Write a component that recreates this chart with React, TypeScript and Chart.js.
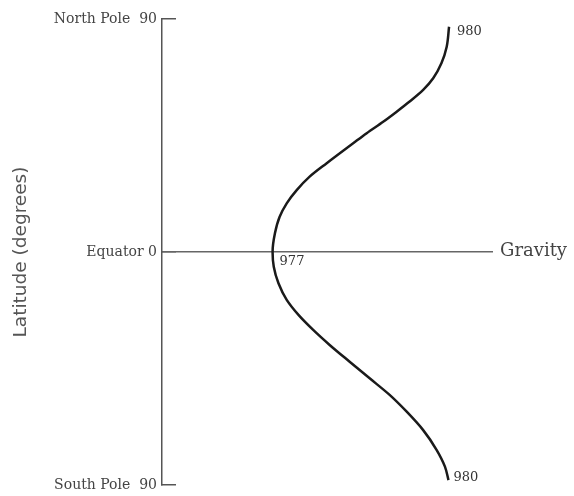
import React, { useEffect, useRef } from 'react';
import { Chart, registerables } from 'chart.js';

Chart.register(...registerables);

// Curve: gravity (x) against latitude (y)
const gravityTop = [
  980.0, 979.96, 979.87, 979.73, 979.56, 979.33, 979.11, 978.88, 978.6, 978.37, 977.92, 977.63, 977.41, 977.24,
  977.12, 977.04, 977.0,
];
const latitudeTop = [87.0, 79.3, 72.9, 67.1, 62.6, 58.1, 54.2, 50.3, 45.9, 42.0, 34.3, 29.1, 23.9, 18.8, 13.6, 7.2, 0];
const gravityBottom = [
  977.02, 977.1, 977.24, 977.44, 977.69, 977.97, 978.31, 978.65, 978.99, 979.28, 979.56, 979.79, 979.93, 979.99,
];
const latitudeBottom = [-5.7, -12.1, -18.5, -24.3, -30.1, -35.9, -42.4, -48.8, -55.2, -61.7, -68.8, -76.5, -82.9, -88.1];

const tickValues = [90, 0, -90];
const tickLabels = ['North Pole  90', 'Equator 0', 'South Pole  90'];
const yTitle = 'Latitude (degrees)';
const xTitle = 'Gravity';
const curveLabels = ['980', '977', '980'];

const gravityMin = 975.12;
const gravityMax = 980.73;

export default function App() {
  const canvasRef = useRef<HTMLCanvasElement | null>(null);

  useEffect(() => {
    const canvas = canvasRef.current;
    if (!canvas) return;

    const points = [
      ...gravityTop.map((g, i) => ({ x: g, y: latitudeTop[i] })),
      ...gravityBottom.map((g, i) => ({ x: g, y: latitudeBottom[i] })),
    ];
    const labelAnchors = [0, gravityTop.length - 1, points.length - 1];
    const labelOffsets = [
      [8, 5],
      [7, 10],
      [5, -2],
    ];

    const textPlugin = {
      id: 'extraText',
      afterDraw(chart: any) {
        const { ctx, scales, chartArea } = chart;
        const xs = scales.x;
        const ys = scales.y;
        ctx.save();
        ctx.fillStyle = '#333';
        ctx.textBaseline = 'middle';
        ctx.textAlign = 'left';
        ctx.font = '13px "DejaVu Serif"';
        labelAnchors.forEach((idx, i) => {
          const p = points[idx];
          const px = xs.getPixelForValue(p.x) + labelOffsets[i][0];
          const py = ys.getPixelForValue(p.y) + labelOffsets[i][1];
          ctx.fillText(curveLabels[i], px, py);
        });
        ctx.font = '18px "DejaVu Serif"';
        ctx.fillStyle = '#444';
        ctx.fillText(xTitle, chartArea.right + 8, ys.getPixelForValue(0) - 1);
        ctx.restore();
      },
    };

    const chart = new Chart(canvas, {
      type: 'scatter',
      data: {
        datasets: [
          {
            data: points,
            showLine: true,
            pointRadius: 0,
            borderColor: '#1a1a1a',
            borderWidth: 2.5,
            cubicInterpolationMode: 'monotone',
            fill: false,
          },
        ],
      },
      options: {
        indexAxis: 'y',
        responsive: false,
        animation: false,
        layout: { padding: { left: 0, right: 82, top: 19, bottom: 11 } },
        plugins: {
          legend: { display: false },
          tooltip: { enabled: false },
        },
        scales: {
          x: {
            type: 'linear',
            min: gravityMin,
            max: gravityMax,
            position: { y: 0 } as any,
            ticks: { display: false },
            grid: { display: true, drawOnChartArea: false, drawTicks: false },
            border: { display: true, color: '#666', width: 1.5 },
          },
          y: {
            type: 'linear',
            min: -90,
            max: 90,
            afterBuildTicks: (s: any) => {
              s.ticks = tickValues.map((v) => ({ value: v }));
            },
            afterFit: (s: any) => {
              s.width = 162;
              s.paddingTop = 0;
              s.paddingBottom = 0;
            },
            ticks: {
              autoSkip: false,
              padding: 19,
              color: '#444',
              font: { family: '"DejaVu Serif"', size: 14 },
              callback: (v: any) => {
                const i = tickValues.indexOf(Number(v));
                return i >= 0 ? tickLabels[i] : '';
              },
            },
            grid: {
              display: true,
              drawOnChartArea: false,
              drawTicks: true,
              tickLength: -14,
              color: '#555',
              lineWidth: 1.5,
            },
            border: { display: true, color: '#555', width: 1.5 },
            title: {
              display: true,
              text: yTitle,
              color: '#555',
              font: { family: '"DejaVu Sans"', size: 18.5 },
              padding: { top: 10, bottom: 0 },
            },
          },
        },
      },
      plugins: [textPlugin],
    });

    return () => chart.destroy();
  }, []);

  return (
    <div style={{ position: 'fixed', left: 0, top: 0, width: 574, height: 496, background: '#fff' }}>
      <canvas ref={canvasRef} width={574} height={496} style={{ width: 574, height: 496 }} />
    </div>
  );
}
